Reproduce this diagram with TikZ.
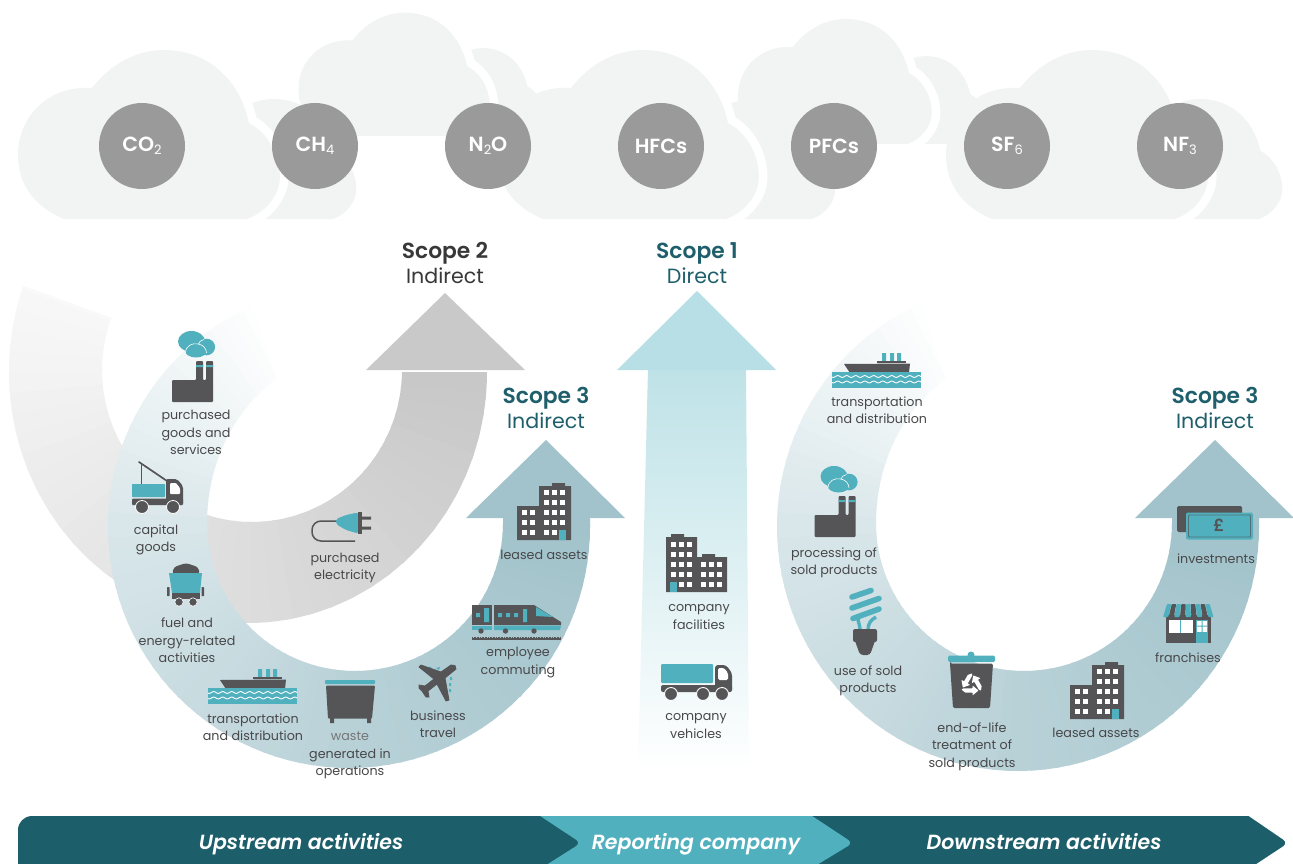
\documentclass[tikz,border=0pt]{standalone}
\usepackage{fontspec}
\setmainfont{Poppins}[BoldFont={Poppins SemiBold},BoldItalicFont={Poppins SemiBold Italic}]
\usetikzlibrary{calc}
\definecolor{dk}{HTML}{555557}
\definecolor{tl}{HTML}{50B0BE}
\definecolor{cl}{HTML}{F2F4F4}
\definecolor{ball}{HTML}{9A9A9A}
\definecolor{txt}{HTML}{48484A}
\definecolor{bluearc}{HTML}{A2C3CB}
\definecolor{grayarc}{HTML}{C8C8C8}
\definecolor{head}{HTML}{B8DFE5}
\definecolor{shaft}{HTML}{BEE2E7}
\definecolor{deep}{HTML}{1C5E6A}
\definecolor{scopec}{HTML}{1F5F6B}
\definecolor{grayhead}{HTML}{C9C9C9}
\tikzset{
  lab/.style={font=\fontsize{12.7}{17.3}\selectfont,text=txt,align=center,inner sep=0pt},
  gas/.style={circle,fill=ball,minimum size=86pt,inner sep=0pt,text=white,font=\fontsize{20.5}{22}\selectfont\bfseries},
  scopet/.style={font=\fontsize{20.6}{25}\selectfont,align=center,inner sep=0pt},
  bart/.style={font=\fontsize{20.5}{24}\selectfont\itshape\bfseries,text=white,inner sep=0pt,anchor=base}
}
\newcommand\sbs[1]{\raisebox{-0.3ex}{\fontsize{13}{13}\selectfont\mdseries #1}}
\newcommand\scp[1]{{\fontsize{21.8}{25}\selectfont\bfseries #1}}
\newcommand\cloudshape{(-100,0) .. controls (-129,-12) and (-146,-34) .. (-146,-64) .. controls (-146,-104) and (-114,-133) .. (-75,-131) -- (-72,-131) .. controls (-54,-154) and (-29,-169) .. (0,-169) .. controls (44,-169) and (76,-139) .. (85,-96) .. controls (104,-86) and (116,-64) .. (116,-42) .. controls (116,-24) and (101,-6) .. (83,0) -- cycle}
% #1 x of crown, #2 bottom, #3 scale
\newcommand\plaincloud[3]{\begin{scope}[shift={(#1,#2)},scale=#3]\fill[cl] \cloudshape;\end{scope}}
\newcommand\cutcloud[3]{\begin{scope}\clip (0,0) rectangle (1293,#2);\begin{scope}[shift={(#1,#2)},scale=#3]\draw[white,line width=17pt] \cloudshape;\fill[cl] \cloudshape;\end{scope}\end{scope}}
% the white halo only on the right of the crown
\newcommand\rightcutcloud[3]{\begin{scope}\clip (#1,0) rectangle (1293,#2);\begin{scope}[shift={(#1,#2)},scale=#3]\draw[white,line width=17pt] \cloudshape;\end{scope}\end{scope}\plaincloud{#1}{#2}{#3}}
\newcommand\fanblue{%
  \foreach \a in {0,3,...,246}{%
    \pgfmathsetmacro\p{\a<90 ? 100-0.267*\a : (\a<180 ? 76-0.4*(\a-90) : max(0,40-0.6*(\a-180)))}%
    \pgfmathsetmacro\b{\a+4}%
    \fill[bluearc!\p!white] (352,525) -- ++(\a:620) -- ++(\b+90:40) -- cycle;%
  }}
\newcommand\fangray{%
  \foreach \a in {0,5,...,200}{%
    \pgfmathsetmacro\p{\a<90 ? 100-0.42*\a : max(0,62-0.46*(\a-90))}%
    \pgfmathsetmacro\b{\a+6}%
    \fill[grayarc!\p!white] (250,372) -- ++(\a:620) -- ++(\b+90:70) -- cycle;%
  }}
\newcommand\bluebandpath[1]{(590,518) -- plot[domain=0:246,samples=90] ({349+241*cos(\x)},{527+(241+#1)*sin(\x)}) -- plot[domain=238:180,samples=30] ({355+148*cos(\x)},{523+170*sin(\x)}) -- plot[domain=180:0,samples=60] ({355+148*cos(\x)},{523+148*sin(\x)}) -- (503,518) -- cycle}
\newcommand\iconFactory{%
  \fill[tl] (191.5,341.5) ellipse (13.5 and 10.5) (206.5,347) ellipse (8.6 and 8.3) (196,350.5) ellipse (11 and 7);
  \draw[white,line width=.6pt] (185.5,353) .. controls (185.5,346) and (192,342.5) .. (198.5,344) .. controls (203.5,345) and (206.5,349) .. (206.5,353);
  \draw[white,line width=.6pt] (198.5,344) .. controls (199,342) and (201,340) .. (204,339.5);
  \fill[dk,rounded corners=1pt] (172,380)--(196,380)--(196,361)--(203,361)--(203,380)--(206,380)--(206,361)--(213,361)--(213,402)--(172,402)--cycle;
  \fill[tl] (196,365) rectangle (203,367) (206,365) rectangle (213,367);
}
\newcommand\iconShip{%
  \fill[tl] (258,669) rectangle (262,677) (266,669) rectangle (270,677) (273,669) rectangle (277,677);
  \fill[dk] (253,676.5) rectangle (282,679);
  \fill[dk] (220,680) -- (286,679.5) -- (285,689) -- (226,689) -- cycle;
  \fill[tl] (208,688) rectangle (297,704);
  \draw[white,line width=.9pt] plot[domain=208:297,samples=90] (\x,{692.5+.9*sin(\x*40)});
  \draw[white,line width=.9pt] plot[domain=208:297,samples=90] (\x,{698+.9*sin(\x*40)});
}
\newcommand\iconOffice{%
  \fill[dk] (539,486) -- (552,486) -- (552,483) -- (565,483) -- (565,486) -- (571,486) -- (571,540) -- (517,540) -- (517,506) -- (539,506) -- cycle;
  \foreach \cx in {544,552,560}\foreach \ry in {490,500,510,520,530}{\fill[white] (\cx,\ry) rectangle ++(5,5);}
  \foreach \cx in {522,530}\foreach \ry in {510,520,530}{\fill[white] (\cx,\ry) rectangle ++(5,5);}
  \fill[tl] (559,530) rectangle (566,540);
}
\begin{document}
\begin{tikzpicture}[x=1pt,y=-1pt]
\useasboundingbox (0,0) rectangle (1293,864);
\fill[white] (0,0) rectangle (1293,864);
% clouds, back to front
\plaincloud{274}{219}{.71}
\plaincloud{1200}{219}{.71}
\cutcloud{164}{219}{1}
\cutcloud{1092}{219}{1}
\plaincloud{926}{144}{.52}
\rightcutcloud{846}{144}{.74}
\plaincloud{753}{219}{.71}
\cutcloud{643}{219}{1}
\plaincloud{483}{136}{.52}
\rightcutcloud{405}{136}{.73}
\node[gas] (co2) at (142,146) {CO\sbs{2}};
\node[gas] (ch4) at (315,146) {CH\sbs{4}};
\node[gas] (n2o) at (488,146) {N\sbs{2}O};
\node[gas] (hfc) at (661,146) {HFCs};
\node[gas] (pfc) at (834,146) {PFCs};
\node[gas] (sf6) at (1007,146) {SF\sbs{6}};
\node[gas] (nf3) at (1180,146) {NF\sbs{3}};
% gray scope 2 band
\begin{scope}
  \clip (487,370) -- plot[domain=0:200,samples=90] ({248+239*cos(\x)},{372+251*sin(\x)}) -- plot[domain=200:0,samples=70] ({252+150*cos(\x)},{370+152*sin(\x)}) -- cycle;
  \fangray
\end{scope}
\fill[grayhead] (366,370) -- (445,293) -- (525,370) -- cycle;
% central arrow
\shade[top color=shaft,bottom color=white] (648,369) -- (746,369) -- (749,770) -- (638,770) -- cycle;
\fill[head] (617,370) -- (697,291) -- (776,370) -- cycle;
% upstream band
\begin{scope}
  \clip \bluebandpath{0};
  \fill[bluearc] (500,440) rectangle (600,530);
  \fanblue
\end{scope}
\fill[bluearc] (466,518) -- (546,440) -- (625,518) -- cycle;
% downstream band
\begin{scope}[shift={(669,0)}]
  \begin{scope}
    \clip \bluebandpath{3};
    \fill[bluearc] (500,440) rectangle (600,530);
    \fanblue
  \end{scope}
  \fill[bluearc] (466,518) -- (546,440) -- (625,518) -- cycle;
\end{scope}
% titles
\node[scopet,text=black!78] (s2) at (445,263) {\scp{Scope 2}\\Indirect};
\node[scopet,text=scopec] (s1) at (697,263) {\scp{Scope 1}\\Direct};
\node[scopet,text=scopec] (s3a) at (546,408) {\scp{Scope 3}\\Indirect};
\node[scopet,text=scopec] (s3b) at (1215,408) {\scp{Scope 3}\\Indirect};
% icons: factory
\iconFactory
\begin{scope}[shift={(642.5,135)}]\iconFactory\end{scope}
% crane truck
\draw[dk,line width=1.7pt,line cap=round] (139,462) -- (170,483);
\draw[dk,line width=1pt] (141,463) -- (141,484);
\fill[tl,rounded corners=.6pt] (132,484) rectangle (165,497);
\fill[dk,rounded corners=2pt] (166,505) -- (166,479) -- (177,479) -- (183,486) -- (183,505) -- cycle;
\fill[white,rounded corners=1pt] (170,483) -- (176,483) -- (180,488) -- (180,494) -- (170,494) -- cycle;
\fill[dk,rounded corners=1pt] (132,498.5) rectangle (183,505);
\fill[dk,draw=white,line width=.8pt] (142,507) circle (6.5) (173,507) circle (6.5);
% coal wagon
\fill[dk,rounded corners=3pt] (172,574) -- (174,567) -- (180,565) -- (186,563) -- (192,565) -- (198,567) -- (200,574) -- cycle;
\fill[tl] (169,573) -- (202,573) -- (200,593) -- (172,593) -- cycle;
\fill[dk] (172,593) rectangle (200,599);
\fill[dk,rounded corners=.5pt] (167,587) rectangle (169.5,596) (201.5,587) rectangle (204,596);
\fill[dk,draw=white,line width=.6pt] (179,602) circle (4.2) (193,602) circle (4.2);
% ship
\iconShip
\begin{scope}[shift={(624,-316)}]\iconShip\end{scope}
% dumpster
\fill[tl,rounded corners=.8pt] (325,680) rectangle (375,684);
\fill[dk,rounded corners=1pt] (326,685.5) -- (375,685.5) -- (372,718.5) -- (328,718.5) -- cycle;
\fill[dk] (330,717) rectangle (334,723) (367,717) rectangle (371,723);
% plane
\fill[tl] (428,668) -- (431,666.5) -- (431,669) -- cycle (436,668) -- (440,667) -- (439,670) -- cycle;
\fill[tl] (449,683) rectangle (451,686) (450,677) rectangle (452,680) (449,689) rectangle (451,692);
\fill[dk,line join=round,draw=dk,line width=.8pt] (455,665.5) -- (456,669) -- (445,678) -- (449,700) -- (446,701) -- (437,684) -- (428,691) -- (429,697) -- (426,697) -- (422,691) -- (419,688) -- (419,685) -- (425,686) -- (434,679) -- (419,667) -- (421,665) -- (441,672) -- (451,665) -- cycle;
% train
\fill[dk] (472,605) rectangle (492,625);
\fill[tl] (472,625.5) rectangle (492,630);
\fill[dk] (494,605) -- (534,605) -- (561,622) -- (561,625) -- (494,625) -- cycle;
\fill[tl] (494,625.5) -- (561,625.5) -- (560,630) -- (494,630) -- cycle;
\fill[tl] (536,607) -- (553,617) -- (536,616) -- cycle;
\fill[tl] (476,613) rectangle (480,617) (484,608) rectangle (489,622);
\fill[tl] (498,613) rectangle (502,617) (506,613) rectangle (510,617) (514,613) rectangle (518,617) (523,609) rectangle (527,622);
\fill[dk] (481,631) circle (2.7) (505.5,631) circle (2.7) (534,631) circle (2.7);
\fill[dk] (472,638) rectangle (561,640);
\draw[dk,line width=1.5pt,dash pattern=on .8pt off .8pt] (472,637.5) -- (561,637.5);
% office towers
\iconOffice
\begin{scope}[shift={(553,179)}]\iconOffice\end{scope}
% company facilities
\fill[dk] (666,537) -- (671,537) -- (671,534) -- (684,534) -- (684,537) -- (697,537) -- (697,557) -- (702,557) -- (702,554) -- (715,554) -- (715,557) -- (727,557) -- (727,592) -- (666,592) -- cycle;
\foreach \cx in {671,679,687}\foreach \ry in {542,552,562,572,582}{\fill[white] (\cx,\ry) rectangle ++(5,5);}
\foreach \cx in {701,709,717}\foreach \ry in {562,572,582}{\fill[white] (\cx,\ry) rectangle ++(5,5);}
\fill[tl] (670,582) rectangle (677,592);
% truck
\fill[tl,rounded corners=1pt] (661,664) rectangle (713,683);
\fill[dk,rounded corners=3pt] (715,692) -- (715,665) -- (726,665) -- (732,673) -- (732,692) -- cycle;
\fill[white,rounded corners=1.5pt] (718,668) -- (724,668) -- (728,673) -- (728,680) -- (718,680) -- cycle;
\fill[dk,rounded corners=2pt] (661,685) rectangle (732,692);
\fill[dk,draw=white,line width=.9pt] (671,694) circle (6.5) (703,694) circle (6.5) (722,694) circle (6.5);
% plug
\draw[dk,line width=1.5pt,rounded corners=9pt] (355,541) -- (312,541) -- (312,521) -- (340,521);
\fill[tl,rounded corners=2pt] (336,519) -- (346,515) -- (358,512.5) -- (358,533.5) -- (346,530) -- (336,524) -- cycle;
\fill[dk] (358,512) rectangle (362,534);
\fill[dk] (362,516.5) rectangle (371,519.5) (362,526.5) rectangle (371,529.5);
% bulb
\begin{scope}[tl,line width=5.6pt,line cap=round]
\draw (852,597) -- (871,590.5);
\draw (852,608) -- (879,598.5);
\draw (853,618.5) -- (879,609);
\end{scope}
\draw[tl,line width=3.4pt] (860,630) .. controls (860,625) and (858,622) .. (858,619);
\draw[tl,line width=3.4pt] (868,630) .. controls (868,623) and (871,620) .. (876,617);
\fill[dk,rounded corners=2pt] (853,629) rectangle (877,642);
\fill[dk,rounded corners=3pt] (854,638) -- (876,638) -- (870,655) -- (860,655) -- cycle;
% recycling bin
\fill[tl] (971,655) circle (3.5);
\fill[tl,rounded corners=1.5pt] (948,655.5) rectangle (995,662);
\fill[dk,rounded corners=1.5pt] (950,663.5) -- (993,663.5) -- (990,708) -- (953,708) -- (950,663.5) -- cycle;
\foreach \r in {0,120,240}{
  \begin{scope}[shift={(971.5,684.5)},rotate=\r]
    \fill[white,rounded corners=.5pt] (-8,3.8) -- (1,3.8) -- (1,1) -- (7,6) -- (1,11) -- (1,8) -- (-6.5,8) -- (-10,5) -- cycle;
  \end{scope}
}
% shop
\fill[dk] (1166,615) rectangle (1211,643);
\fill[white] (1168.5,620) rectangle (1193,633);
\fill[tl] (1180,620) rectangle (1181,633);
\fill[tl] (1196,620) rectangle (1208,643);
\fill[white] (1197,620.5) rectangle (1207,631.5);
\fill[tl] (1201.5,620) rectangle (1202.5,632) (1197,625.5) rectangle (1207,626.5);
\foreach \i in {0,...,8}{
  \pgfmathsetmacro\xa{1167+\i*4.78}\pgfmathsetmacro\xb{\xa+4.4}
  \pgfmathsetmacro\xc{1163+\i*5.67}\pgfmathsetmacro\xd{\xc+5.2}
  \pgfmathtruncatemacro\m{mod(\i,2)}
  \ifnum\m=0 \fill[tl,rounded corners=.8pt] (\xa,604) -- (\xb,604) -- (\xd,617) -- (\xc,617) -- cycle;
  \else \fill[dk,rounded corners=.8pt] (\xa,604) -- (\xb,604) -- (\xd,617) -- (\xc,617) -- cycle; \fi
}
% money
\fill[dk,rounded corners=1.5pt] (1177,506) rectangle (1242,532);
\fill[tl,rounded corners=2pt] (1186,512.5) rectangle (1253,539.5);
\draw[dk!70!tl,line width=.8pt,rounded corners=1pt] (1188.5,515) rectangle (1250.5,537);
\node[inner sep=0pt,text=dk,font=\fontsize{17}{17}\selectfont\bfseries] (pound) at (1219,525.5) {£};
% labels
\node[lab] (l1) at (196,432.5) {purchased\\goods and\\services};
\node[lab] (l2) at (156,540) {capital\\goods};
\node[lab] (l3) at (187,640.5) {fuel and\\energy-related\\activities};
\node[lab] (l4) at (345,568) {purchased\\electricity};
\node[lab] (l5) at (253,727) {transportation\\and distribution};
\node[lab] (l6) at (350,755.5) {{\color{txt!75!white}waste}\\generated in\\operations};
\node[lab] (l7) at (438,724) {business\\travel};
\node[lab] (l8) at (518,662.5) {employee\\commuting};
\node[lab] (l9) at (544,554.5) {leased assets};
\node[lab] (l10) at (699,617) {company\\facilities};
\node[lab] (l11) at (696,726) {company\\vehicles};
\node[lab] (l12) at (877,410.5) {transportation\\and distribution};
\node[lab] (l13) at (834,563) {processing of\\sold products};
\node[lab] (l14) at (868,681) {use of sold\\products};
\node[lab] (l15) at (972,746.5) {end-of-life\\treatment of\\sold products};
\node[lab] (l16) at (1096,732.5) {leased assets};
\node[lab] (l17) at (1188,657.5) {franchises};
\node[lab] (l18) at (1216,558.5) {investments};
% bottom bar
\begin{scope}
\clip (0,816) rectangle (1293,864);
\fill[deep,rounded corners=14pt] (18,816) rectangle (100,900);
\fill[deep,rounded corners=6pt] (60,802) -- (1228,802) -- (1288,843) -- (1241,874) -- (60,874) -- cycle;
\fill[tl,rounded corners=6pt] (519,802) -- (581,843) -- (532,874) -- (802,874) -- (853,843) -- (791,802) -- cycle;
\end{scope}
\node[bart] (b1) at (301,849) {Upstream activities};
\node[bart] (b2) at (696,849) {Reporting company};
\node[bart] (b3) at (1044,849) {Downstream activities};
\end{tikzpicture}
\end{document}
